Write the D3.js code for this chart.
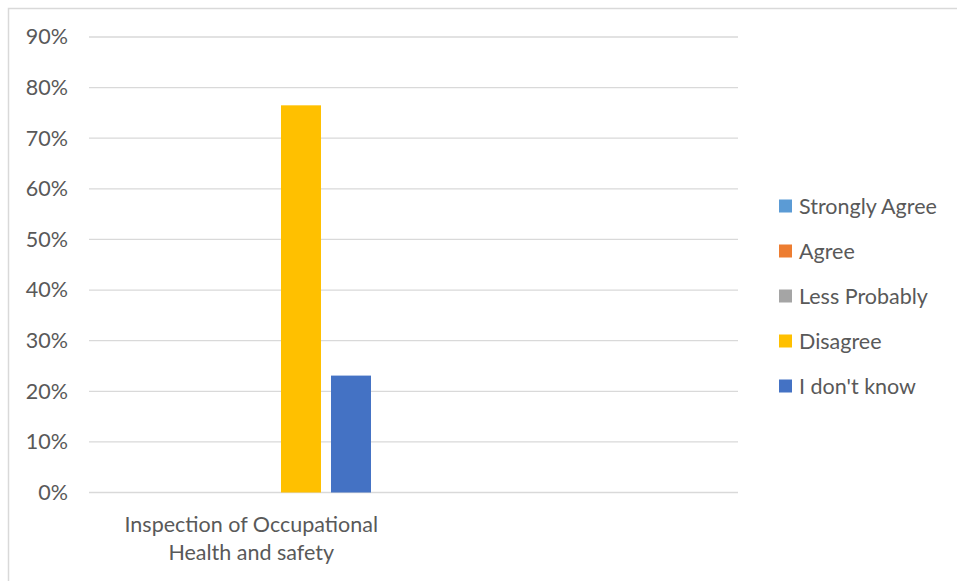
<!DOCTYPE html>
<html>
<head>
<meta charset="utf-8">
<script src="https://cdn.jsdelivr.net/npm/d3@7"></script>
<style>
  html, body { margin: 0; padding: 0; background: #fff; }
  svg { display: block; }
  text { font-family: Lato, "Open Sans", sans-serif; fill: #595959; }
</style>
</head>
<body>
<svg id="chart" width="957" height="581"></svg>
<script>
// Survey answers for one inspection topic (second slot of the axis is left blank)
const categories = ["Inspection of Occupational Health and safety", ""];
const series = ["Strongly Agree", "Agree", "Less Probably", "Disagree", "I don't know"];
const seriesColors = ["#5B9BD5", "#ED7D31", "#A5A5A5", "#FFC000", "#4472C4"];
const values = [
  [0, 0, 0, 0.765, 0.231],   // Inspection of Occupational Health and safety
  [0, 0, 0, 0, 0]            // empty slot
];
const yTicks = [0, 0.1, 0.2, 0.3, 0.4, 0.5, 0.6, 0.7, 0.8, 0.9];

const FONT_SIZE = 21.5;
const svg = d3.select("#chart");

// outer chart frame
svg.append("rect")
  .attr("x", 8.5).attr("y", 8.5)
  .attr("width", 1000).attr("height", 1000)
  .attr("fill", "none").attr("stroke", "#d9d9d9").attr("stroke-width", 1.5);

const plot = { left: 89, right: 738, top: 37, bottom: 492.5 };

const y = d3.scaleLinear().domain([0, 0.9]).range([plot.bottom, plot.top]);
const x0 = d3.scaleBand().domain(d3.range(categories.length)).range([plot.left, plot.right]);
const bw = x0.bandwidth();
const x1 = d3.scaleBand().domain(series)
  .range([bw * 0.114, bw * 0.8844]).paddingInner(0.2).paddingOuter(0.1);

// gridlines
svg.append("g")
  .selectAll("line").data(yTicks).join("line")
  .attr("x1", plot.left).attr("x2", plot.right)
  .attr("y1", d => y(d)).attr("y2", d => y(d))
  .attr("stroke", "#d9d9d9").attr("stroke-width", 1.3);

// y axis labels
const yAxis = d3.axisLeft(y).tickValues(yTicks).tickFormat(d3.format(".0%")).tickSize(0).tickPadding(0);
const yg = svg.append("g").attr("transform", `translate(68,0)`).call(yAxis);
yg.select(".domain").remove();
yg.selectAll("text").attr("font-size", FONT_SIZE).attr("fill", "#595959")
  .style("font-family", "Lato, 'Open Sans', sans-serif");

// bars
const groups = svg.append("g").selectAll("g").data(values).join("g")
  .attr("transform", (d, i) => `translate(${x0(i)},0)`);
groups.selectAll("rect")
  .data(d => d.map((v, j) => ({ v, s: series[j], c: seriesColors[j] })))
  .join("rect")
  .attr("x", d => x1(d.s))
  .attr("width", x1.bandwidth())
  .attr("y", d => y(d.v))
  .attr("height", d => y(0) - y(d.v))
  .attr("fill", d => d.c);

// category labels (wrapped onto two lines)
const catLines = [["Inspection of Occupational", "Health and safety"], []];
categories.forEach((c, i) => {
  const t = svg.append("text")
    .attr("x", x0(i) + bw / 2)
    .attr("y", 532)
    .attr("text-anchor", "middle")
    .attr("font-size", FONT_SIZE);
  catLines[i].forEach((ln, k) => {
    t.append("tspan").attr("x", x0(i) + bw / 2).attr("dy", k === 0 ? 0 : 28).text(ln);
  });
});

// legend
const legend = svg.append("g").attr("transform", "translate(779,206)");
const li = legend.selectAll("g").data(series).join("g")
  .attr("transform", (d, i) => `translate(0,${i * 45})`);
li.append("rect").attr("x", 0).attr("y", -6.5).attr("width", 13).attr("height", 13)
  .attr("fill", (d, i) => seriesColors[i]);
li.append("text").attr("x", 20).attr("y", 0).attr("dy", "0.35em")
  .attr("font-size", FONT_SIZE).text(d => d);
</script>
</body>
</html>
